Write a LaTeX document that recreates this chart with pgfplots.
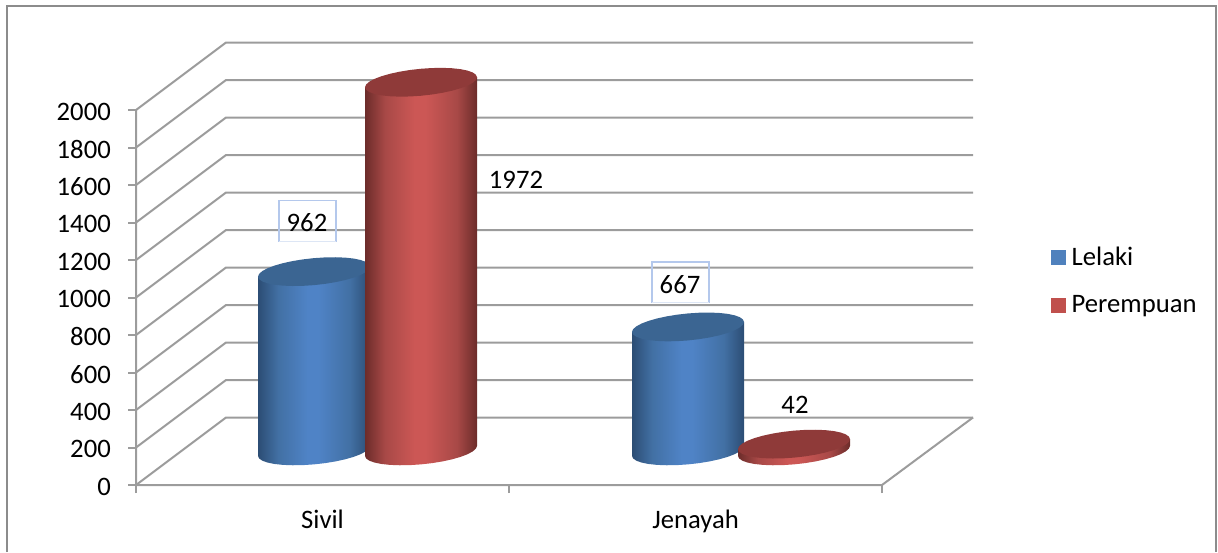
\documentclass[border=0pt]{standalone}
\usepackage{fontspec}
\setmainfont{Carlito}
\usepackage{pgfplots}
\usepackage{pgfplotstable}
\pgfplotsset{compat=1.18}

\definecolor{bluea}{HTML}{2C4D74}
\definecolor{blueb}{HTML}{4270A4}
\definecolor{bluec}{HTML}{4F83C6}
\definecolor{reda}{HTML}{6C2C2A}
\definecolor{redb}{HTML}{A84947}
\definecolor{redc}{HTML}{CC5755}
\definecolor{bluetop}{HTML}{3B6592}
\definecolor{redtop}{HTML}{8F3A39}
\definecolor{gridc}{HTML}{9C9C9C}
\definecolor{framec}{HTML}{8C8C8C}
\definecolor{boxa}{HTML}{B4C8EC}
\definecolor{boxb}{HTML}{DDE6F5}
\definecolor{legblue}{HTML}{4F81BD}
\definecolor{legred}{HTML}{C0504D}

% horizontal colour bands of the cylinder sides
\pgfdeclarehorizontalshading{bluecyl}{100bp}{color(0bp)=(bluea); color(25bp)=(bluea); color(34bp)=(blueb); color(47bp)=(bluec); color(52bp)=(bluec); color(66bp)=(blueb); color(75bp)=(bluea); color(100bp)=(bluea)}
\pgfdeclarehorizontalshading{redcyl}{100bp}{color(0bp)=(reda); color(25bp)=(reda); color(34bp)=(redb); color(47bp)=(redc); color(52bp)=(redc); color(66bp)=(redb); color(75bp)=(reda); color(100bp)=(reda)}

% outline of a cylinder top: x offset in px, y offset in value units
\pgfplotstableread{
dx dv
56 26.7
54.9 40.2
51.7 52.2
46.5 62.2
39.6 69.8
31.1 74.7
21.4 76.7
10.9 75.8
0 72
-10.9 65.4
-21.4 56.3
-31.1 45
-39.6 32
-46.5 17.9
-51.7 2.9
-54.9 -12.1
-56 -26.7
-54.9 -40.2
-51.7 -52.2
-46.5 -62.2
-39.6 -69.8
-31.1 -74.7
-21.4 -76.7
-10.9 -75.8
0 -72
10.9 -65.4
21.4 -56.3
31.1 -45
39.6 -32
46.5 -17.9
51.7 -2.9
54.9 12.1
}\toptable

% side of a cylinder: h=1 at the top, h=0 along the front of the base
\pgfplotstableread{
dx h dv
-56 1 -26.7
56 1 26.7
56 0 26.7
54.9 0 12.1
51.7 0 -2.9
46.5 0 -17.9
39.6 0 -32
31.1 0 -45
21.4 0 -56.3
10.9 0 -65.4
0 0 -72
-10.9 0 -75.8
-21.4 0 -76.7
-31.1 0 -74.7
-39.6 0 -69.8
-46.5 0 -62.2
-51.7 0 -52.2
-54.9 0 -40.2
-56 0 -26.7
}\sidetable

% cx value shade topcolor
\newcommand{\cylinder}[4]{%
  \addplot[draw=none, shading=#3, shading angle=0, forget plot] table[
    x expr=\thisrow{dx}+#1, y expr=176+\thisrow{h}*#2+\thisrow{dv}+(1-\thisrow{h})*6] {\sidetable} -- cycle;
  \addplot[draw=none, fill=#4, forget plot] table[
    x expr=\thisrow{dx}+#1, y expr=176+#2+\thisrow{dv}] {\toptable} -- cycle;
}

\begin{document}
\begin{tikzpicture}
\begin{axis}[
    scale only axis,
    width=502.2pt, height=264.6pt,
    xmin=136, xmax=973,
    ymin=0, ymax=2352,
    clip=false,
    axis line style={draw=none},
    tick pos=left,
    tick align=outside,
    major tick length=4.8pt,
    tick style={gridc, line width=1.2pt},
    ytick={0,200,...,2000},
    xtick={136,509,882},
    xticklabels={},
    extra x ticks={322.5,695.5},
    extra x tick labels={Sivil,Jenayah},
    extra x tick style={major tick length=0pt},
    tick label style={font=\fontsize{16}{18}\selectfont},
    /pgf/number format/assume math mode=true,
    /pgf/number format/1000 sep={},
    yticklabel style={xshift=-6.8pt, yshift=-1pt},
    xticklabel style={yshift=-11.2pt},
    legend cell align=left,
    legend style={at={(axis cs:1051,1088)}, anchor=west, draw=none, fill=none,
        font=\fontsize{16}{18}\selectfont, row sep=13pt, inner sep=0pt},
    legend image code/.code={\fill[#1, draw=none] (0cm,-4.5pt) rectangle (9pt,4.5pt); \path[draw=none] (0cm,0pt) -- (10.2pt,0pt);},
]
% page extent and outer frame
\addplot[draw=none, forget plot] coordinates {(0,-357.3) (1218,2586.7)};
\addplot[framec, line width=1.2pt, forget plot] coordinates {(7,-357.3) (7,2554.7) (1216,2554.7) (1216,-357.3)};

% walls and floor
\addplot[gridc, line width=1.2pt, forget plot] coordinates {(136,0) (226,360) (973,360)};
\addplot[gridc, line width=1.2pt, forget plot] coordinates {(136,200) (226,560) (973,560)};
\addplot[gridc, line width=1.2pt, forget plot] coordinates {(136,400) (226,760) (973,760)};
\addplot[gridc, line width=1.2pt, forget plot] coordinates {(136,600) (226,960) (973,960)};
\addplot[gridc, line width=1.2pt, forget plot] coordinates {(136,800) (226,1160) (973,1160)};
\addplot[gridc, line width=1.2pt, forget plot] coordinates {(136,1000) (226,1360) (973,1360)};
\addplot[gridc, line width=1.2pt, forget plot] coordinates {(136,1200) (226,1560) (973,1560)};
\addplot[gridc, line width=1.2pt, forget plot] coordinates {(136,1400) (226,1760) (973,1760)};
\addplot[gridc, line width=1.2pt, forget plot] coordinates {(136,1600) (226,1960) (973,1960)};
\addplot[gridc, line width=1.2pt, forget plot] coordinates {(136,1800) (226,2160) (973,2160)};
\addplot[gridc, line width=1.2pt, forget plot] coordinates {(136,2000) (226,2360) (973,2360)};
\addplot[gridc, line width=1.2pt, forget plot] coordinates {(136,2000) (136,0) (882,0) (973,360)};

% cylinders
\cylinder{314}{962}{bluecyl}{bluetop}
\cylinder{421}{1972}{redcyl}{redtop}
\cylinder{688}{667}{bluecyl}{bluetop}
\cylinder{794}{42}{redcyl}{redtop}

% label boxes
\addplot[boxa, line width=0.7pt, forget plot] coordinates {(279,1298) (279,1516) (336,1516) (336,1298)};
\addplot[boxb, line width=0.7pt, forget plot] coordinates {(279,1298) (336,1298)};
\addplot[boxa, line width=0.7pt, forget plot] coordinates {(652,972) (652,1189) (709,1189) (709,972)};
\addplot[boxb, line width=0.7pt, forget plot] coordinates {(652,972) (709,972)};

\node[font=\fontsize{16}{18}\selectfont] at (axis cs:307,1397) {962};
\node[font=\fontsize{16}{18}\selectfont] at (axis cs:516,1626) {1972};
\node[font=\fontsize{16}{18}\selectfont] at (axis cs:680,1070) {667};
\node[font=\fontsize{16}{18}\selectfont] at (axis cs:795,427) {42};

\addlegendimage{legblue}
\addlegendentry{Lelaki}
\addlegendimage{legred}
\addlegendentry{Perempuan}
\end{axis}
\end{tikzpicture}
\end{document}
